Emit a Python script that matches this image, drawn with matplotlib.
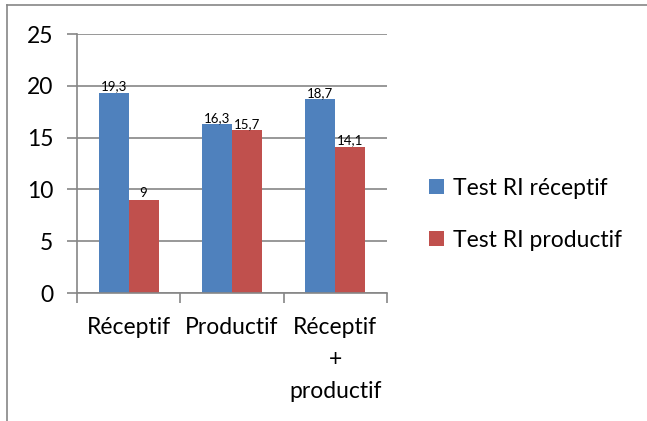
import matplotlib.pyplot as plt
import numpy as np
from matplotlib.lines import Line2D
from matplotlib.ticker import FixedLocator

plt.rcParams['font.family'] = ['Lato', 'DejaVu Sans']

categories = ['Réceptif', 'Productif', 'Réceptif\n+\nproductif']
series_names = ['Test RI réceptif', 'Test RI productif']
recept = [19.3, 16.3, 18.7]
product = [9, 15.7, 14.1]
labels_recept = ['19,3', '16,3', '18,7']
labels_product = ['9', '15,7', '14,1']

blue = '#4F81BD'
red = '#C0504D'
grey = '#868686'

fig = plt.figure(figsize=(6.47, 4.21), dpi=100)
ax = fig.add_axes([0.119, 0.304, 0.479, 0.615])

x = np.arange(len(categories))
w = 0.29
b1 = ax.bar(x - w / 2, recept, w, color=blue, label=series_names[0])
b2 = ax.bar(x + w / 2, product, w, color=red, label=series_names[1])

for bars, labs in ((b1, labels_recept), (b2, labels_product)):
    for rect, lab in zip(bars, labs):
        ax.text(rect.get_x() + rect.get_width() / 2, rect.get_height() + 0.05, lab,
                ha='center', va='bottom', fontsize=9.5)

ax.set_xlim(-0.5, 2.5)
ax.set_ylim(0, 25)
ax.set_yticks([0, 5, 10, 15, 20, 25])
ax.yaxis.grid(True, color=grey, linewidth=1.2)
ax.set_axisbelow(True)
ax.tick_params(axis='y', length=7, width=1.2, color=grey, labelsize=16.5, pad=10)

ax.set_xticks(x)
ax.set_xticklabels(categories, fontsize=16.5, linespacing=1.65)
ax.xaxis.set_minor_locator(FixedLocator([-0.5, 0.5, 1.5, 2.5]))
ax.tick_params(axis='x', which='major', length=0, pad=17)
ax.tick_params(axis='x', which='minor', length=7, width=1.2, color=grey)

for s in ['top', 'right']:
    ax.spines[s].set_visible(False)
for s in ['left', 'bottom']:
    ax.spines[s].set_color(grey)
    ax.spines[s].set_linewidth(1.2)

ax.legend(loc='center left', bbox_to_anchor=(1.135, 0.305), frameon=False,
          fontsize=16.5, handlelength=0.65, handleheight=0.65, handletextpad=0.4,
          labelspacing=1.35, borderpad=0, borderaxespad=0)

# outer chart frame
fig.add_artist(Line2D([7 / 647, 1], [1 - 5 / 421, 1 - 5 / 421], color=grey, lw=1.2))
fig.add_artist(Line2D([7 / 647, 7 / 647], [0, 1 - 5 / 421], color=grey, lw=1.2))

fig.savefig('out.png', dpi=100)
